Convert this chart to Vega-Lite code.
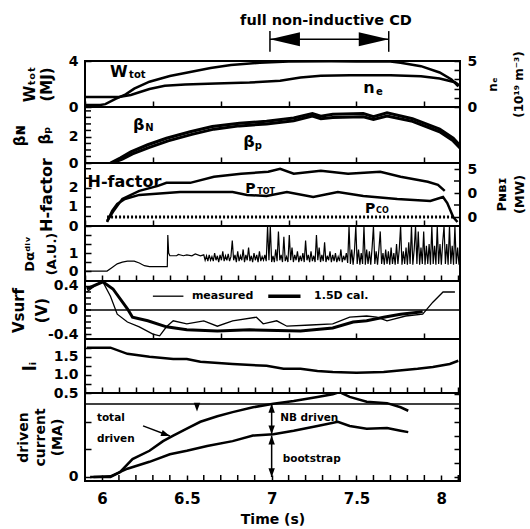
{
"$schema":"https://vega.github.io/schema/vega-lite/v6.json",
"background":"white",
"padding":{"left":10,"top":12,"right":0,"bottom":0},
"bounds":"flush",
"spacing":0,
"config":{
 "font":"DejaVu Sans",
 "view":{"stroke":"black","strokeWidth":2},
 "axis":{"domain":false,"grid":false,"offset":-6,"tickColor":"black","tickSize":6,"tickWidth":1.5,"labelColor":"black","labelFontSize":14,"labelFontWeight":"bold","labelFont":"DejaVu Sans","labelPadding":7,"labelOverlap":false,"labelFlush":false,"titleColor":"black","titleFont":"DejaVu Sans","titleFontWeight":"bold","titleFontSize":14,"titleLineHeight":17},
 "text":{"font":"DejaVu Sans","fontWeight":"bold","color":"black"},
 "line":{"color":"black"},
 "rule":{"color":"black"},
 "tick":{"color":"black","opacity":1},
 "point":{"color":"black","filled":true,"opacity":1},
 "concat":{"spacing":0}
},
"datasets":{
 "wtot":[{"t":5.9,"v":0.17},{"t":5.99,"v":0.17},{"t":6.02,"v":0.25},{"t":6.08,"v":0.7},{"t":6.14,"v":1.1},{"t":6.19,"v":1.6},{"t":6.28,"v":2.2},{"t":6.4,"v":2.7},{"t":6.52,"v":3.05},{"t":6.64,"v":3.4},{"t":6.76,"v":3.65},{"t":6.93,"v":3.85},{"t":7.1,"v":3.95},{"t":7.35,"v":3.97},{"t":7.5,"v":3.95},{"t":7.7,"v":3.95},{"t":7.76,"v":3.85},{"t":7.88,"v":3.55},{"t":7.99,"v":3.0},{"t":8.06,"v":2.4},{"t":8.1,"v":1.8}],
 "ne":[{"t":5.9,"v":1.1},{"t":6.04,"v":1.1},{"t":6.1,"v":1.1},{"t":6.17,"v":1.3},{"t":6.22,"v":1.6},{"t":6.28,"v":1.95},{"t":6.37,"v":2.3},{"t":6.49,"v":2.45},{"t":6.67,"v":2.55},{"t":6.87,"v":2.65},{"t":7.05,"v":2.85},{"t":7.17,"v":3.2},{"t":7.29,"v":3.4},{"t":7.46,"v":3.45},{"t":7.7,"v":3.45},{"t":7.88,"v":3.35},{"t":7.99,"v":3.1},{"t":8.08,"v":2.7},{"t":8.11,"v":2.3}],
 "lab1big":[{"t":6.047,"v":3.04,"s":"W"},{"t":7.54,"v":1.65,"s":"n"}],
 "lab1sub":[{"t":6.16,"v":2.8,"s":"tot"},{"t":7.615,"v":1.3,"s":"e"}],
 "cd":[{"t":7.32,"v":7.45,"s":"full non-inductive CD"}],
 "cdbars":[{"t":6.99,"v":4.8,"v2":6.6},{"t":7.69,"v":4.8,"v2":6.6}],
 "cdline":[{"t":6.99,"t2":7.69,"v":5.9}],
 "cdheadL":[{"t":6.99,"v":5.9}],
 "cdheadR":[{"t":7.69,"v":5.9}],
 "betaN":[{"t":6.05,"v":0},{"t":6.11,"v":0.4},{"t":6.17,"v":0.85},{"t":6.27,"v":1.4},{"t":6.38,"v":1.9},{"t":6.52,"v":2.4},{"t":6.65,"v":2.8},{"t":6.81,"v":3.05},{"t":6.97,"v":3.2},{"t":7.13,"v":3.45},{"t":7.24,"v":3.8},{"t":7.29,"v":3.6},{"t":7.36,"v":3.75},{"t":7.54,"v":3.8},{"t":7.6,"v":3.55},{"t":7.68,"v":3.85},{"t":7.83,"v":3.4},{"t":7.99,"v":2.6},{"t":8.07,"v":1.9},{"t":8.11,"v":1.35}],
 "betaP":[{"t":6.06,"v":0},{"t":6.12,"v":0.3},{"t":6.18,"v":0.7},{"t":6.28,"v":1.2},{"t":6.39,"v":1.7},{"t":6.53,"v":2.2},{"t":6.66,"v":2.6},{"t":6.81,"v":2.85},{"t":6.97,"v":3.0},{"t":7.13,"v":3.25},{"t":7.24,"v":3.6},{"t":7.29,"v":3.4},{"t":7.36,"v":3.5},{"t":7.54,"v":3.55},{"t":7.6,"v":3.35},{"t":7.68,"v":3.6},{"t":7.83,"v":3.2},{"t":7.99,"v":2.4},{"t":8.07,"v":1.7},{"t":8.11,"v":1.15}],
 "lab2big":[{"t":6.183,"v":2.9,"s":"β"},{"t":6.832,"v":1.6,"s":"β"}],
 "lab2sub":[{"t":6.255,"v":2.7,"s":"N"},{"t":6.9,"v":1.3,"s":"p"}],
 "mt2":[{"v":0.5},{"v":1},{"v":1.5},{"v":2.5},{"v":3},{"v":3.5},{"v":4}],
 "hfac":[{"t":6.03,"v":0.26},{"t":6.065,"v":0.74},{"t":6.12,"v":1.42},{"t":6.22,"v":1.84},{"t":6.33,"v":2.1},{"t":6.38,"v":2.26},{"t":6.52,"v":2.26},{"t":6.66,"v":2.58},{"t":6.82,"v":2.74},{"t":6.98,"v":2.84},{"t":7.05,"v":3.0},{"t":7.13,"v":2.74},{"t":7.29,"v":2.9},{"t":7.45,"v":2.74},{"t":7.64,"v":2.84},{"t":7.76,"v":2.58},{"t":7.92,"v":2.32},{"t":7.98,"v":2.16},{"t":8.02,"v":1.84}],
 "ptot":[{"t":6.03,"v":-2.1},{"t":6.06,"v":2.5},{"t":6.09,"v":5.4},{"t":6.135,"v":7.5},{"t":6.22,"v":9.2},{"t":6.46,"v":10.4},{"t":6.77,"v":10.4},{"t":6.855,"v":9.2},{"t":6.97,"v":8.75},{"t":7.09,"v":10.4},{"t":7.245,"v":8.3},{"t":7.39,"v":10.4},{"t":7.54,"v":8.75},{"t":7.74,"v":7.5},{"t":7.935,"v":6.7},{"t":8.01,"v":8.3},{"t":8.035,"v":5.8},{"t":8.07,"v":0},{"t":8.095,"v":-2.1}],
 "pco":[{"t":6.03,"v":0.47},{"t":7.0,"v":0.47},{"t":8.08,"v":0.47}],
 "mt3":[{"v":0.5},{"v":1.5},{"v":2.5},{"v":3}],
 "hlab":[{"v":1,"s":"1"}],
 "mtP":[{"v":5},{"v":15}],
 "lab3big":[{"t":5.915,"v":2.3,"s":"H-factor"}],
 "lab3mid":[{"t":6.845,"v":1.95,"s":"P"},{"t":7.55,"v":0.9,"s":"P"}],
 "lab3sub":[{"t":6.915,"v":1.8,"s":"TOT"},{"t":7.615,"v":0.78,"s":"CO"}],
 "dalpha":[{"t":5.9,"v":0},{"t":6.0,"v":0},{"t":6.03,"v":0},{"t":6.06,"v":0.2},{"t":6.09,"v":0.4},{"t":6.12,"v":0.5},{"t":6.15,"v":0.55},{"t":6.19,"v":0.55},{"t":6.22,"v":0.45},{"t":6.25,"v":0.3},{"t":6.28,"v":0.25},{"t":6.33,"v":0.25},{"t":6.385,"v":0.25},{"t":6.388,"v":2.0},{"t":6.393,"v":1.0},{"t":6.4,"v":0.85},{"t":6.44,"v":0.85},{"t":6.45,"v":0.92},{"t":6.48,"v":0.85},{"t":6.5,"v":0.9},{"t":6.53,"v":0.85},{"t":6.55,"v":0.95},{"t":6.58,"v":0.85},{"t":6.6,"v":0.9},
 {"t":6.608,"v":0.6},{"t":6.616,"v":0.85},{"t":6.624,"v":0.55},{"t":6.632,"v":0.9},{"t":6.64,"v":0.6},{"t":6.648,"v":0.8},{"t":6.656,"v":0.55},{"t":6.664,"v":1.0},{"t":6.672,"v":0.6},{"t":6.68,"v":0.85},{"t":6.688,"v":0.5},{"t":6.696,"v":0.9},{"t":6.704,"v":0.6},{"t":6.712,"v":1.1},{"t":6.72,"v":0.55},{"t":6.728,"v":0.85},{"t":6.736,"v":0.6},{"t":6.744,"v":0.95},{"t":6.752,"v":0.55},{"t":6.76,"v":0.8},{"t":6.768,"v":1.7},{"t":6.776,"v":0.6},{"t":6.784,"v":0.9},{"t":6.792,"v":0.5},{"t":6.8,"v":1.1},{"t":6.808,"v":0.55},{"t":6.816,"v":0.85},{"t":6.824,"v":0.6},{"t":6.832,"v":1.2},{"t":6.84,"v":0.5},{"t":6.848,"v":0.9},{"t":6.856,"v":0.6},{"t":6.864,"v":1.3},{"t":6.872,"v":0.55},{"t":6.88,"v":0.85},{"t":6.888,"v":0.5},{"t":6.896,"v":1.0},{"t":6.904,"v":0.6},{"t":6.912,"v":0.9},{"t":6.92,"v":0.5},{"t":6.928,"v":1.1},{"t":6.936,"v":0.55},{"t":6.944,"v":0.8},{"t":6.952,"v":0.6},{"t":6.96,"v":0.9},{"t":6.968,"v":0.55},{"t":6.976,"v":2.5},{"t":6.984,"v":0.6},{"t":6.992,"v":2.5},{"t":7.0,"v":0.5},
 {"t":7.008,"v":0.85},{"t":7.016,"v":0.5},{"t":7.024,"v":1.2},{"t":7.032,"v":0.55},{"t":7.04,"v":2.2},{"t":7.048,"v":0.6},{"t":7.056,"v":0.9},{"t":7.064,"v":0.5},{"t":7.072,"v":1.9},{"t":7.08,"v":0.55},{"t":7.088,"v":0.8},{"t":7.096,"v":0.5},{"t":7.104,"v":2.0},{"t":7.112,"v":0.6},{"t":7.12,"v":1.3},{"t":7.128,"v":0.5},{"t":7.136,"v":0.9},{"t":7.144,"v":0.6},{"t":7.152,"v":1.1},{"t":7.16,"v":0.5},{"t":7.168,"v":0.85},{"t":7.176,"v":0.55},{"t":7.184,"v":1.0},{"t":7.192,"v":0.5},{"t":7.2,"v":1.7},{"t":7.208,"v":0.6},{"t":7.216,"v":0.9},{"t":7.224,"v":0.5},{"t":7.232,"v":1.1},{"t":7.24,"v":0.55},{"t":7.248,"v":0.85},{"t":7.256,"v":0.5},{"t":7.264,"v":2.0},{"t":7.272,"v":0.6},{"t":7.28,"v":1.3},{"t":7.288,"v":0.5},{"t":7.296,"v":0.9},{"t":7.304,"v":0.55},{"t":7.312,"v":1.6},{"t":7.32,"v":0.5},{"t":7.328,"v":0.85},{"t":7.336,"v":0.6},{"t":7.344,"v":1.1},{"t":7.352,"v":0.5},{"t":7.36,"v":0.9},{"t":7.368,"v":0.55},{"t":7.376,"v":1.0},{"t":7.384,"v":0.5},{"t":7.392,"v":0.8},{"t":7.4,"v":0.55},{"t":7.408,"v":1.2},{"t":7.416,"v":0.5},{"t":7.424,"v":0.85},{"t":7.432,"v":0.6},{"t":7.44,"v":1.0},{"t":7.448,"v":0.45},
 {"t":7.456,"v":2.5},{"t":7.464,"v":0.4},{"t":7.472,"v":1.2},{"t":7.48,"v":0.35},{"t":7.488,"v":1.1},{"t":7.496,"v":2.5},{"t":7.504,"v":0.4},{"t":7.512,"v":1.2},{"t":7.52,"v":0.35},{"t":7.528,"v":1.0},{"t":7.536,"v":0.4},{"t":7.544,"v":2.5},{"t":7.552,"v":0.35},{"t":7.56,"v":1.2},{"t":7.568,"v":0.4},{"t":7.576,"v":1.1},{"t":7.584,"v":0.35},{"t":7.592,"v":1.3},{"t":7.6,"v":2.5},{"t":7.608,"v":0.4},{"t":7.616,"v":1.1},{"t":7.624,"v":0.35},{"t":7.632,"v":1.2},{"t":7.64,"v":2.2},{"t":7.648,"v":0.4},{"t":7.656,"v":1.0},{"t":7.664,"v":0.35},{"t":7.672,"v":1.2},{"t":7.68,"v":0.4},{"t":7.688,"v":1.1},{"t":7.696,"v":0.35},{"t":7.704,"v":1.3},{"t":7.712,"v":0.4},{"t":7.72,"v":1.0},{"t":7.728,"v":0.35},{"t":7.736,"v":1.5},{"t":7.744,"v":0.4},{"t":7.752,"v":1.2},{"t":7.76,"v":2.5},{"t":7.768,"v":0.35},{"t":7.776,"v":1.1},{"t":7.784,"v":0.4},{"t":7.792,"v":1.3},{"t":7.8,"v":0.35},{"t":7.808,"v":1.6},{"t":7.816,"v":0.4},{"t":7.824,"v":2.5},{"t":7.832,"v":0.35},{"t":7.84,"v":1.2},{"t":7.848,"v":2.5},{"t":7.856,"v":0.4},{"t":7.864,"v":2.2},{"t":7.872,"v":0.35},{"t":7.88,"v":1.3},{"t":7.888,"v":0.4},{"t":7.896,"v":2.2},{"t":7.904,"v":0.35},{"t":7.912,"v":1.4},{"t":7.92,"v":0.4},{"t":7.928,"v":1.5},{"t":7.936,"v":0.35},{"t":7.944,"v":2.5},{"t":7.952,"v":0.4},{"t":7.96,"v":1.4},{"t":7.968,"v":0.35},{"t":7.976,"v":2.5},{"t":7.984,"v":0.4},{"t":7.992,"v":1.5},{"t":8.0,"v":0.35},{"t":8.008,"v":1.6},{"t":8.016,"v":2.5},{"t":8.024,"v":0.4},{"t":8.032,"v":1.5},{"t":8.04,"v":0.35},{"t":8.048,"v":2.5},{"t":8.056,"v":0.4},{"t":8.064,"v":1.4},{"t":8.072,"v":0.35},{"t":8.08,"v":2.5},{"t":8.088,"v":0.4},{"t":8.096,"v":1.3},{"t":8.104,"v":0.35},{"t":8.11,"v":1.0}],
 "vmeas":[{"t":5.91,"v":0.3},{"t":5.97,"v":0.43},{"t":6.005,"v":0.47},{"t":6.05,"v":0.23},{"t":6.09,"v":-0.07},{"t":6.15,"v":-0.2},{"t":6.22,"v":-0.28},{"t":6.3,"v":-0.4},{"t":6.34,"v":-0.43},{"t":6.38,"v":-0.28},{"t":6.42,"v":-0.18},{"t":6.5,"v":-0.23},{"t":6.6,"v":-0.18},{"t":6.68,"v":-0.27},{"t":6.77,"v":-0.18},{"t":6.91,"v":-0.12},{"t":6.95,"v":-0.23},{"t":7.03,"v":-0.18},{"t":7.09,"v":-0.27},{"t":7.23,"v":-0.25},{"t":7.36,"v":-0.23},{"t":7.46,"v":-0.12},{"t":7.56,"v":-0.1},{"t":7.62,"v":-0.12},{"t":7.68,"v":-0.18},{"t":7.79,"v":-0.1},{"t":7.89,"v":-0.07},{"t":7.95,"v":0.13},{"t":8.01,"v":0.3},{"t":8.08,"v":0.3}],
 "vcal":[{"t":5.91,"v":0.35},{"t":6.005,"v":0.47},{"t":6.065,"v":0.35},{"t":6.15,"v":0.02},{"t":6.18,"v":-0.12},{"t":6.27,"v":-0.18},{"t":6.38,"v":-0.28},{"t":6.5,"v":-0.33},{"t":6.68,"v":-0.35},{"t":6.87,"v":-0.33},{"t":7.17,"v":-0.35},{"t":7.36,"v":-0.3},{"t":7.48,"v":-0.2},{"t":7.56,"v":-0.18},{"t":7.66,"v":-0.12},{"t":7.76,"v":-0.07},{"t":7.89,"v":-0.03}],
 "mt5":[{"v":-0.3},{"v":-0.2},{"v":-0.1},{"v":0},{"v":0.1},{"v":0.2},{"v":0.3}],
 "vlab":[{"v":0,"s":"0"}],
 "zero":[{"v":0}],
 "vlegthin":[{"t":6.3,"t2":6.48,"v":0.23}],
 "vlegthick":[{"t":6.98,"t2":7.17,"v":0.23}],
 "vlegtext":[{"t":6.53,"v":0.23,"s":"measured"},{"t":7.25,"v":0.23,"s":"1.5D cal."}],
 "li":[{"t":5.91,"v":1.75},{"t":6.05,"v":1.75},{"t":6.15,"v":1.58},{"t":6.28,"v":1.5},{"t":6.42,"v":1.44},{"t":6.5,"v":1.44},{"t":6.58,"v":1.36},{"t":6.77,"v":1.3},{"t":6.97,"v":1.25},{"t":7.07,"v":1.17},{"t":7.17,"v":1.17},{"t":7.27,"v":1.11},{"t":7.36,"v":1.08},{"t":7.5,"v":1.06},{"t":7.66,"v":1.08},{"t":7.86,"v":1.17},{"t":7.95,"v":1.22},{"t":8.05,"v":1.3},{"t":8.1,"v":1.39}],
 "itot":[{"t":5.93,"v":0},{"t":6.05,"v":0},{"t":6.106,"v":0.07},{"t":6.18,"v":0.26},{"t":6.28,"v":0.38},{"t":6.36,"v":0.52},{"t":6.42,"v":0.6},{"t":6.5,"v":0.7},{"t":6.58,"v":0.8},{"t":6.68,"v":0.88},{"t":6.77,"v":0.94},{"t":6.89,"v":1.01},{"t":7.01,"v":1.06},{"t":7.13,"v":1.1},{"t":7.27,"v":1.16},{"t":7.36,"v":1.2},{"t":7.4,"v":1.23},{"t":7.46,"v":1.16},{"t":7.56,"v":1.09},{"t":7.68,"v":1.07},{"t":7.76,"v":1.01},{"t":7.805,"v":0.96}],
 "iboot":[{"t":5.95,"v":0},{"t":6.05,"v":0.01},{"t":6.15,"v":0.12},{"t":6.28,"v":0.22},{"t":6.4,"v":0.33},{"t":6.5,"v":0.38},{"t":6.62,"v":0.45},{"t":6.77,"v":0.52},{"t":6.89,"v":0.6},{"t":7.01,"v":0.62},{"t":7.13,"v":0.67},{"t":7.27,"v":0.74},{"t":7.39,"v":0.8},{"t":7.46,"v":0.74},{"t":7.56,"v":0.7},{"t":7.68,"v":0.71},{"t":7.76,"v":0.67},{"t":7.805,"v":0.65}],
 "mtx":[{"t":5.9},{"t":6.1},{"t":6.2},{"t":6.3},{"t":6.4},{"t":6.6},{"t":6.7},{"t":6.8},{"t":6.9},{"t":7.1},{"t":7.2},{"t":7.3},{"t":7.4},{"t":7.6},{"t":7.7},{"t":7.8},{"t":7.9},{"t":8.1}],
 "ipline":[{"v":1.058}],
 "varrows":[{"t":7.0,"v":1.06,"v2":0.62},{"t":7.0,"v":0.6,"v2":0.0}],
 "vheadU":[{"t":7.0,"v":1.06},{"t":7.0,"v":0.6}],
 "vheadD":[{"t":7.0,"v":0.62},{"t":7.0,"v":0.0},{"t":6.56,"v":0.95}],
 "darrow":[{"t":6.242,"v":0.74,"t2":6.4,"v2":0.594}],
 "dhead":[{"t":6.4,"v":0.594}],
 "lab7":[{"t":5.97,"v":0.85,"s":"total"},{"t":5.97,"v":0.55,"s":"driven"},{"t":7.05,"v":0.86,"s":"NB driven"},{"t":7.065,"v":0.26,"s":"bootstrap"}]
},
"vconcat":[
 {"width":375,"height":46,
  "layer":[
   {"layer":[
    {"data":{"name":"wtot"},"mark":{"type":"line","strokeWidth":2.5,"clip":true},
     "encoding":{"x":{"field":"t","type":"quantitative","scale":{"domain":[5.9,8.11],"nice":false,"zero":false},"axis":{"values":[5.9,6,6.1,6.2,6.3,6.4,6.5,6.6,6.7,6.8,6.9,7,7.1,7.2,7.3,7.4,7.5,7.6,7.7,7.8,7.9,8,8.1],"labels":false,"title":null}},
      "y":{"field":"v","type":"quantitative","scale":{"domain":[0,4],"nice":false,"zero":false},"axis":{"values":[0,1,2,3,4],"labelExpr":"datum.value % 2 == 0 ? format(datum.value,'~g') : ''","title":["Wₜₒₜ","(MJ)"],"titleFontSize":15,"titlePadding":14}}}},
    {"data":{"name":"lab1big"},"mark":{"type":"text","fontSize":16,"align":"left","baseline":"middle"},
     "encoding":{"x":{"field":"t","type":"quantitative","scale":{"domain":[5.9,8.11],"nice":false,"zero":false}},"y":{"field":"v","type":"quantitative","scale":{"domain":[0,4],"nice":false,"zero":false}},"text":{"field":"s"}}},
    {"data":{"name":"lab1sub"},"mark":{"type":"text","fontSize":10,"align":"left","baseline":"middle"},
     "encoding":{"x":{"field":"t","type":"quantitative","scale":{"domain":[5.9,8.11],"nice":false,"zero":false}},"y":{"field":"v","type":"quantitative","scale":{"domain":[0,4],"nice":false,"zero":false}},"text":{"field":"s"}}},
    {"data":{"name":"cd"},"mark":{"type":"text","fontSize":14.5,"align":"center","baseline":"middle"},
     "encoding":{"x":{"field":"t","type":"quantitative","scale":{"domain":[5.9,8.11],"nice":false,"zero":false}},"y":{"field":"v","type":"quantitative","scale":{"domain":[0,4],"nice":false,"zero":false}},"text":{"field":"s"}}},
    {"data":{"name":"cdbars"},"mark":{"type":"rule","strokeWidth":1.5},
     "encoding":{"x":{"field":"t","type":"quantitative","scale":{"domain":[5.9,8.11],"nice":false,"zero":false}},"y":{"field":"v","type":"quantitative","scale":{"domain":[0,4],"nice":false,"zero":false}},"y2":{"field":"v2"}}},
    {"data":{"name":"cdline"},"mark":{"type":"rule","strokeWidth":1.5},
     "encoding":{"x":{"field":"t","type":"quantitative","scale":{"domain":[5.9,8.11],"nice":false,"zero":false}},"x2":{"field":"t2"},"y":{"field":"v","type":"quantitative","scale":{"domain":[0,4],"nice":false,"zero":false}}}},
    {"data":{"name":"cdheadL"},"mark":{"type":"point","size":400,"strokeWidth":0,"shape":"M0,0L3,-0.7L3,0.7Z"},
     "encoding":{"x":{"field":"t","type":"quantitative","scale":{"domain":[5.9,8.11],"nice":false,"zero":false}},"y":{"field":"v","type":"quantitative","scale":{"domain":[0,4],"nice":false,"zero":false}}}},
    {"data":{"name":"cdheadR"},"mark":{"type":"point","size":400,"strokeWidth":0,"shape":"M0,0L-3,-0.7L-3,0.7Z"},
     "encoding":{"x":{"field":"t","type":"quantitative","scale":{"domain":[5.9,8.11],"nice":false,"zero":false}},"y":{"field":"v","type":"quantitative","scale":{"domain":[0,4],"nice":false,"zero":false}}}}
   ]},
   {"data":{"name":"ne"},"mark":{"type":"line","strokeWidth":2.5,"clip":true},
    "encoding":{"x":{"field":"t","type":"quantitative","scale":{"domain":[5.9,8.11],"nice":false,"zero":false}},
     "y":{"field":"v","type":"quantitative","scale":{"domain":[0,5],"nice":false,"zero":false},"axis":{"orient":"right","values":[0,1,2,3,4,5],"labelExpr":"datum.value == 0 || datum.value == 5 ? format(datum.value,'~g') : ''","title":["nₑ","(10¹⁹ m⁻³)"],"titleAngle":270,"titleFontSize":12,"titleLineHeight":26,"titleX":38,"titleY":23,"titleAlign":"center","titleBaseline":"middle"}}}}
  ],
  "resolve":{"scale":{"y":"independent"},"axis":{"y":"independent"}}
 },
 {"width":375,"height":56,
  "layer":[
   {"data":{"name":"betaN"},"mark":{"type":"line","strokeWidth":3,"clip":true},
    "encoding":{"x":{"field":"t","type":"quantitative","scale":{"domain":[5.9,8.11],"nice":false,"zero":false},"axis":{"values":[5.9,6,6.1,6.2,6.3,6.4,6.5,6.6,6.7,6.8,6.9,7,7.1,7.2,7.3,7.4,7.5,7.6,7.7,7.8,7.9,8,8.1],"labels":false,"title":null}},
     "y":{"field":"v","type":"quantitative","scale":{"domain":[0,4.3],"nice":false,"zero":false},"axis":{"values":[0,2],"title":["βɴ","βₚ"],"titleFontSize":15,"titleLineHeight":25,"titlePadding":16}}}},
   {"data":{"name":"betaP"},"mark":{"type":"line","strokeWidth":3,"clip":true},
    "encoding":{"x":{"field":"t","type":"quantitative","scale":{"domain":[5.9,8.11],"nice":false,"zero":false}},"y":{"field":"v","type":"quantitative","scale":{"domain":[0,4.3],"nice":false,"zero":false}}}},
   {"data":{"name":"mt2"},"mark":{"type":"tick","orient":"horizontal","size":12,"thickness":1.5,"clip":true},
    "encoding":{"x":{"datum":5.9,"type":"quantitative","scale":{"domain":[5.9,8.11],"nice":false,"zero":false}},"y":{"field":"v","type":"quantitative","scale":{"domain":[0,4.3],"nice":false,"zero":false}}}},
   {"data":{"name":"lab2big"},"mark":{"type":"text","fontSize":16,"align":"left","baseline":"middle"},
    "encoding":{"x":{"field":"t","type":"quantitative","scale":{"domain":[5.9,8.11],"nice":false,"zero":false}},"y":{"field":"v","type":"quantitative","scale":{"domain":[0,4.3],"nice":false,"zero":false}},"text":{"field":"s"}}},
   {"data":{"name":"lab2sub"},"mark":{"type":"text","fontSize":10,"align":"left","baseline":"middle"},
    "encoding":{"x":{"field":"t","type":"quantitative","scale":{"domain":[5.9,8.11],"nice":false,"zero":false}},"y":{"field":"v","type":"quantitative","scale":{"domain":[0,4.3],"nice":false,"zero":false}},"text":{"field":"s"}}}
  ]
 },
 {"width":375,"height":63,
  "layer":[
   {"layer":[
    {"data":{"name":"hfac"},"mark":{"type":"line","strokeWidth":2.5,"clip":true},
     "encoding":{"x":{"field":"t","type":"quantitative","scale":{"domain":[5.9,8.11],"nice":false,"zero":false},"axis":{"values":[5.9,6,6.1,6.2,6.3,6.4,6.5,6.6,6.7,6.8,6.9,7,7.1,7.2,7.3,7.4,7.5,7.6,7.7,7.8,7.9,8,8.1],"labels":false,"title":null}},
      "y":{"field":"v","type":"quantitative","scale":{"domain":[0,3.3],"nice":false,"zero":false},"axis":{"values":[0,2],"title":"H-factor","titleFontSize":16,"titlePadding":14}}}},
    {"data":{"name":"pco"},"mark":{"type":"line","strokeWidth":3,"strokeDash":[2,2],"clip":true},
     "encoding":{"x":{"field":"t","type":"quantitative","scale":{"domain":[5.9,8.11],"nice":false,"zero":false}},"y":{"field":"v","type":"quantitative","scale":{"domain":[0,3.3],"nice":false,"zero":false}}}},
    {"data":{"name":"mt3"},"mark":{"type":"tick","orient":"horizontal","size":12,"thickness":1.5,"clip":true},
     "encoding":{"x":{"datum":5.9,"type":"quantitative","scale":{"domain":[5.9,8.11],"nice":false,"zero":false}},"y":{"field":"v","type":"quantitative","scale":{"domain":[0,3.3],"nice":false,"zero":false}}}},
    {"data":{"name":"hlab"},"mark":{"type":"tick","orient":"horizontal","size":12,"thickness":1.5,"clip":true},
     "encoding":{"x":{"datum":5.9,"type":"quantitative","scale":{"domain":[5.9,8.11],"nice":false,"zero":false}},"y":{"field":"v","type":"quantitative","scale":{"domain":[0,3.3],"nice":false,"zero":false}}}},
    {"data":{"name":"hlab"},"mark":{"type":"text","fontSize":14,"align":"right","baseline":"middle","dx":-7},
     "encoding":{"x":{"datum":5.9,"type":"quantitative","scale":{"domain":[5.9,8.11],"nice":false,"zero":false}},"y":{"field":"v","type":"quantitative","scale":{"domain":[0,3.3],"nice":false,"zero":false}},"text":{"field":"s"}}},
    {"data":{"name":"lab3big"},"mark":{"type":"text","fontSize":16,"align":"left","baseline":"middle"},
     "encoding":{"x":{"field":"t","type":"quantitative","scale":{"domain":[5.9,8.11],"nice":false,"zero":false}},"y":{"field":"v","type":"quantitative","scale":{"domain":[0,3.3],"nice":false,"zero":false}},"text":{"field":"s"}}},
    {"data":{"name":"lab3mid"},"mark":{"type":"text","fontSize":14,"align":"left","baseline":"middle"},
     "encoding":{"x":{"field":"t","type":"quantitative","scale":{"domain":[5.9,8.11],"nice":false,"zero":false}},"y":{"field":"v","type":"quantitative","scale":{"domain":[0,3.3],"nice":false,"zero":false}},"text":{"field":"s"}}},
    {"data":{"name":"lab3sub"},"mark":{"type":"text","fontSize":8,"align":"left","baseline":"middle"},
     "encoding":{"x":{"field":"t","type":"quantitative","scale":{"domain":[5.9,8.11],"nice":false,"zero":false}},"y":{"field":"v","type":"quantitative","scale":{"domain":[0,3.3],"nice":false,"zero":false}},"text":{"field":"s"}}}
   ]},
   {"data":{"name":"ptot"},"mark":{"type":"line","strokeWidth":2.5,"clip":true},
    "encoding":{"x":{"field":"t","type":"quantitative","scale":{"domain":[5.9,8.11],"nice":false,"zero":false}},
     "y":{"field":"v","type":"quantitative","scale":{"domain":[-3.75,22.5],"nice":false,"zero":false},"axis":{"orient":"right","values":[0,10,20],"labelExpr":"datum.value == 20 ? '5' : '0'","title":["Pɴʙɪ","(MW)"],"titleAngle":270,"titleFontSize":13,"titleLineHeight":18,"titleX":47,"titleY":31,"titleAlign":"center","titleBaseline":"middle"}}}},
   {"data":{"name":"mtP"},"mark":{"type":"tick","orient":"horizontal","size":12,"thickness":1.5,"clip":true},
    "encoding":{"x":{"datum":8.11,"type":"quantitative","scale":{"domain":[5.9,8.11],"nice":false,"zero":false}},"y":{"field":"v","type":"quantitative","scale":{"domain":[-3.75,22.5],"nice":false,"zero":false},"axis":null}}}
  ],
  "resolve":{"scale":{"y":"independent"},"axis":{"y":"independent"}}
 },
 {"width":375,"height":55,
  "layer":[
   {"data":{"name":"dalpha"},"mark":{"type":"line","strokeWidth":1.2,"clip":true},
    "encoding":{"x":{"field":"t","type":"quantitative","scale":{"domain":[5.9,8.11],"nice":false,"zero":false},"axis":{"values":[5.9,6,6.1,6.2,6.3,6.4,6.5,6.6,6.7,6.8,6.9,7,7.1,7.2,7.3,7.4,7.5,7.6,7.7,7.8,7.9,8,8.1],"labels":false,"title":null}},
     "y":{"field":"v","type":"quantitative","scale":{"domain":[-0.55,2.5],"nice":false,"zero":false},"axis":{"values":[0,0.5,1,1.5,2],"labelExpr":"datum.value == 0 || datum.value == 1 ? format(datum.value,'~g') : ''","title":["Dαᵈⁱᵛ","(A.U.)"],"titleFontSize":13,"titleLineHeight":22,"titlePadding":10}}}}
  ]
 },
 {"width":375,"height":58,
  "layer":[
   {"data":{"name":"vmeas"},"mark":{"type":"line","strokeWidth":1.3,"clip":true},
    "encoding":{"x":{"field":"t","type":"quantitative","scale":{"domain":[5.9,8.11],"nice":false,"zero":false},"axis":{"values":[5.9,6,6.1,6.2,6.3,6.4,6.5,6.6,6.7,6.8,6.9,7,7.1,7.2,7.3,7.4,7.5,7.6,7.7,7.8,7.9,8,8.1],"labels":false,"title":null}},
     "y":{"field":"v","type":"quantitative","scale":{"domain":[-0.483,0.483],"nice":false,"zero":false},"axis":{"values":[-0.4,0.4],"labelExpr":"datum.value > 0 ? '0.4' : '-0.4'","title":["Vsurf","(V)"],"titleFontSize":15,"titleLineHeight":23,"titlePadding":-2}}}},
   {"data":{"name":"vcal"},"mark":{"type":"line","strokeWidth":3,"clip":true},
    "encoding":{"x":{"field":"t","type":"quantitative","scale":{"domain":[5.9,8.11],"nice":false,"zero":false}},"y":{"field":"v","type":"quantitative","scale":{"domain":[-0.483,0.483],"nice":false,"zero":false}}}},
   {"data":{"name":"mt5"},"mark":{"type":"tick","orient":"horizontal","size":12,"thickness":1.5,"clip":true},
    "encoding":{"x":{"datum":5.9,"type":"quantitative","scale":{"domain":[5.9,8.11],"nice":false,"zero":false}},"y":{"field":"v","type":"quantitative","scale":{"domain":[-0.483,0.483],"nice":false,"zero":false}}}},
   {"data":{"name":"vlab"},"mark":{"type":"text","fontSize":14,"align":"right","baseline":"middle","dx":-7},
    "encoding":{"x":{"datum":5.9,"type":"quantitative","scale":{"domain":[5.9,8.11],"nice":false,"zero":false}},"y":{"field":"v","type":"quantitative","scale":{"domain":[-0.483,0.483],"nice":false,"zero":false}},"text":{"field":"s"}}},
   {"data":{"name":"zero"},"mark":{"type":"rule","strokeWidth":1.5},
    "encoding":{"y":{"field":"v","type":"quantitative","scale":{"domain":[-0.483,0.483],"nice":false,"zero":false}}}},
   {"data":{"name":"vlegthin"},"mark":{"type":"rule","strokeWidth":1.3},
    "encoding":{"x":{"field":"t","type":"quantitative","scale":{"domain":[5.9,8.11],"nice":false,"zero":false}},"x2":{"field":"t2"},"y":{"field":"v","type":"quantitative","scale":{"domain":[-0.483,0.483],"nice":false,"zero":false}}}},
   {"data":{"name":"vlegthick"},"mark":{"type":"rule","strokeWidth":3.5},
    "encoding":{"x":{"field":"t","type":"quantitative","scale":{"domain":[5.9,8.11],"nice":false,"zero":false}},"x2":{"field":"t2"},"y":{"field":"v","type":"quantitative","scale":{"domain":[-0.483,0.483],"nice":false,"zero":false}}}},
   {"data":{"name":"vlegtext"},"mark":{"type":"text","fontSize":11,"align":"left","baseline":"middle"},
    "encoding":{"x":{"field":"t","type":"quantitative","scale":{"domain":[5.9,8.11],"nice":false,"zero":false}},"y":{"field":"v","type":"quantitative","scale":{"domain":[-0.483,0.483],"nice":false,"zero":false}},"text":{"field":"s"}}}
  ]
 },
 {"width":375,"height":54,
  "layer":[
   {"data":{"name":"li"},"mark":{"type":"line","strokeWidth":2.5,"clip":true},
    "encoding":{"x":{"field":"t","type":"quantitative","scale":{"domain":[5.9,8.11],"nice":false,"zero":false},"axis":{"values":[5.9,6,6.1,6.2,6.3,6.4,6.5,6.6,6.7,6.8,6.9,7,7.1,7.2,7.3,7.4,7.5,7.6,7.7,7.8,7.9,8,8.1],"labels":false,"title":null}},
     "y":{"field":"v","type":"quantitative","scale":{"domain":[0.5,1.99],"nice":false,"zero":false},"axis":{"values":[0.5,0.75,1,1.25,1.5,1.75],"labelExpr":"datum.value == 0.5 || datum.value == 1 || datum.value == 1.5 ? format(datum.value,'.1f') : ''","title":"lᵢ","titleFontSize":17,"titlePadding":14}}}}
  ]
 },
 {"width":375,"height":88,
  "layer":[
   {"layer":[
    {"data":{"name":"itot"},"mark":{"type":"line","strokeWidth":2.5,"clip":true},
     "encoding":{"x":{"field":"t","type":"quantitative","scale":{"domain":[5.9,8.11],"nice":false,"zero":false},"axis":{"values":[6,6.5,7,7.5,8],"labelFontSize":15,"labelExpr":"format(datum.value,'~g')","labelPadding":10,"title":"Time (s)","titleFontSize":14,"titlePadding":6}},
      "y":{"field":"v","type":"quantitative","scale":{"domain":[-0.058,1.217],"nice":false,"zero":false},"axis":{"values":[0,0.2,0.4,0.6,0.8,1],"labelExpr":"datum.value == 0 || datum.value == 1 ? format(datum.value,'~g') : ''","title":["driven","current","(MA)"],"titleFontSize":14,"titlePadding":4}}}},
    {"data":{"name":"iboot"},"mark":{"type":"line","strokeWidth":2.5,"clip":true},
     "encoding":{"x":{"field":"t","type":"quantitative","scale":{"domain":[5.9,8.11],"nice":false,"zero":false}},"y":{"field":"v","type":"quantitative","scale":{"domain":[-0.058,1.217],"nice":false,"zero":false}}}},
    {"data":{"name":"mtx"},"mark":{"type":"tick","orient":"vertical","size":12,"thickness":1.5,"clip":true},
     "encoding":{"x":{"field":"t","type":"quantitative","scale":{"domain":[5.9,8.11],"nice":false,"zero":false}},"y":{"datum":-0.058,"type":"quantitative","scale":{"domain":[-0.058,1.217],"nice":false,"zero":false}}}},
    {"data":{"name":"varrows"},"mark":{"type":"rule","strokeWidth":1.5},
     "encoding":{"x":{"field":"t","type":"quantitative","scale":{"domain":[5.9,8.11],"nice":false,"zero":false}},"y":{"field":"v","type":"quantitative","scale":{"domain":[-0.058,1.217],"nice":false,"zero":false}},"y2":{"field":"v2"}}},
    {"data":{"name":"vheadU"},"mark":{"type":"point","size":64,"strokeWidth":0,"shape":"M0,0L0.8,2.2L-0.8,2.2Z"},
     "encoding":{"x":{"field":"t","type":"quantitative","scale":{"domain":[5.9,8.11],"nice":false,"zero":false}},"y":{"field":"v","type":"quantitative","scale":{"domain":[-0.058,1.217],"nice":false,"zero":false}}}},
    {"data":{"name":"vheadD"},"mark":{"type":"point","size":64,"strokeWidth":0,"shape":"M0,0L0.8,-2.2L-0.8,-2.2Z"},
     "encoding":{"x":{"field":"t","type":"quantitative","scale":{"domain":[5.9,8.11],"nice":false,"zero":false}},"y":{"field":"v","type":"quantitative","scale":{"domain":[-0.058,1.217],"nice":false,"zero":false}}}},
    {"data":{"name":"darrow"},"mark":{"type":"rule","strokeWidth":1.5},
     "encoding":{"x":{"field":"t","type":"quantitative","scale":{"domain":[5.9,8.11],"nice":false,"zero":false}},"x2":{"field":"t2"},"y":{"field":"v","type":"quantitative","scale":{"domain":[-0.058,1.217],"nice":false,"zero":false}},"y2":{"field":"v2"}}},
    {"data":{"name":"dhead"},"mark":{"type":"point","size":64,"strokeWidth":0,"angle":20,"shape":"M0,0L-2.2,-0.8L-2.2,0.8Z"},
     "encoding":{"x":{"field":"t","type":"quantitative","scale":{"domain":[5.9,8.11],"nice":false,"zero":false}},"y":{"field":"v","type":"quantitative","scale":{"domain":[-0.058,1.217],"nice":false,"zero":false}}}},
    {"data":{"name":"lab7"},"mark":{"type":"text","fontSize":10.5,"align":"left","baseline":"middle"},
     "encoding":{"x":{"field":"t","type":"quantitative","scale":{"domain":[5.9,8.11],"nice":false,"zero":false}},"y":{"field":"v","type":"quantitative","scale":{"domain":[-0.058,1.217],"nice":false,"zero":false}},"text":{"field":"s"}}}
   ]},
   {"data":{"name":"ipline"},"mark":{"type":"rule","strokeWidth":1.5},
    "encoding":{"y":{"field":"v","type":"quantitative","scale":{"domain":[-0.058,1.217],"nice":false,"zero":false},"axis":{"orient":"right","values":[0,0.2,0.4,0.6,0.8,1,1.2],"labels":false,"title":null}}}}
  ],
  "resolve":{"scale":{"y":"independent"},"axis":{"y":"independent"}}
 }
]
}
